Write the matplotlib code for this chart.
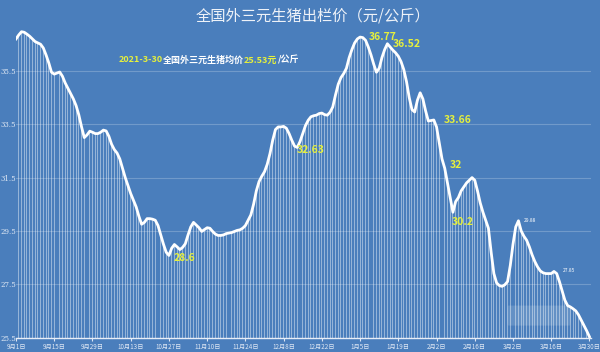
import numpy as np
import pandas as pd
import matplotlib
matplotlib.use('Agg')
import matplotlib.pyplot as plt
from matplotlib.patches import FancyBboxPatch

plt.rcParams['font.family'] = ['Noto Sans CJK SC', 'DejaVu Sans']

# daily price, 2020-09-01 .. 2021-03-30
prices = [
    36.70, 36.85, 36.97, 36.95, 36.88, 36.80, 36.70, 36.60, 36.55, 36.50,
    36.36, 36.10, 35.80, 35.45, 35.38, 35.42, 35.46, 35.30, 35.05, 34.85,
    34.65, 34.45, 34.20, 33.85, 33.40, 33.00, 33.10, 33.24, 33.20, 33.15,
    33.15, 33.20, 33.28, 33.25, 33.05, 32.75, 32.55, 32.42, 32.20, 31.85,
    31.50, 31.20, 30.90, 30.65, 30.40, 30.05, 29.75, 29.82, 29.96, 29.96,
    29.94, 29.90, 29.70, 29.35, 29.00, 28.70, 28.58, 28.85, 28.99, 28.90,
    28.80, 28.88, 29.02, 29.35, 29.65, 29.82, 29.72, 29.62, 29.48, 29.55,
    29.62, 29.60, 29.48, 29.38, 29.33, 29.33, 29.35, 29.40, 29.42, 29.44,
    29.48, 29.52, 29.54, 29.60, 29.70, 29.90, 30.10, 30.50, 31.00, 31.35,
    31.55, 31.72, 32.00, 32.40, 32.90, 33.30, 33.40, 33.40, 33.42, 33.35,
    33.15, 32.90, 32.68, 32.63, 32.85, 33.15, 33.45, 33.65, 33.78, 33.82,
    33.84, 33.90, 33.92, 33.86, 33.84, 33.95, 34.15, 34.60, 35.00, 35.25,
    35.40, 35.60, 36.00, 36.30, 36.55, 36.70, 36.77, 36.75, 36.65, 36.40,
    36.10, 35.75, 35.45, 35.60, 36.00, 36.30, 36.52, 36.40, 36.28, 36.18,
    36.05, 35.85, 35.55, 35.10, 34.50, 34.05, 33.96, 34.40, 34.68, 34.45,
    34.00, 33.62, 33.64, 33.66, 33.40, 32.80, 32.20, 31.85, 31.30, 30.75,
    30.20, 30.60, 30.75, 31.00, 31.15, 31.30, 31.40, 31.50, 31.40, 31.00,
    30.55, 30.20, 29.90, 29.60, 28.70, 27.90, 27.55, 27.45, 27.42, 27.48,
    27.60, 28.20, 29.00, 29.65, 29.88, 29.50, 29.30, 29.15, 28.90, 28.60,
    28.35, 28.15, 28.00, 27.93, 27.90, 27.90, 27.90, 27.98, 27.90, 27.60,
    27.25, 26.90, 26.70, 26.65, 26.58, 26.50, 26.35, 26.15, 25.95, 25.75,
    25.53,
]
dates = pd.date_range('2020-09-01', periods=len(prices), freq='D')

tick_idx = list(range(0, len(prices), 14))
tick_labels = ['%d月%d日' % (dates[i].month, dates[i].day) for i in tick_idx]
y_ticks = [25.5, 27.5, 29.5, 31.5, 33.5, 35.5]

# (day index, text, dx, dy in points)
big_labels = [(56, '28.6', 11, -2), (103, '32.63', 10, -2), (126, '36.77', 16, 0),
              (136, '36.52', 14, 0), (153, '33.66', 17, 0), (160, '32', 2, 34),
              (160, '30.2', 7, -7)]
small_labels = [(184, '29.88', 8, 0), (197, '27.85', 11, 1)]

bg = '#4a7ebc'
yellow = '#e6f03c'

fig = plt.figure(figsize=(6, 3.52), dpi=100, facecolor=bg)
ax = fig.add_axes([0.0267, 0.041, 0.958, 0.909], facecolor=bg)

x = np.arange(len(prices))
ax.bar(x, np.array(prices) - 25.5, bottom=25.5, width=0.35, color='white',
       alpha=0.42, linewidth=0, zorder=2)
ax.plot(x, prices, color='white', lw=2, solid_joinstyle='round', zorder=4)

ax.set_xlim(0, 210.5)
ax.set_ylim(25.5, 37.5)
ax.set_yticks(y_ticks)
ax.set_yticklabels([str(v) for v in y_ticks], family='DejaVu Serif')
ax.set_xticks(tick_idx)
ax.set_xticklabels(tick_labels)
ax.tick_params(axis='y', length=0, labelsize=5, colors='#dfe8f4', pad=0)
ax.tick_params(axis='x', length=2, width=0.8, labelsize=4.5, colors='#dfe8f4', pad=2)
ax.grid(axis='y', color='white', alpha=0.22, lw=0.8)
ax.set_axisbelow(True)
for s in ['top', 'right', 'left']:
    ax.spines[s].set_visible(False)
ax.spines['bottom'].set_color('#e8eef7')
ax.spines['bottom'].set_linewidth(1)

for i, t, dx, dy in big_labels:
    ax.annotate(t, (i, prices[i]), xytext=(dx, dy), textcoords='offset points',
                ha='center', va='center', color=yellow, fontsize=7.5,
                fontweight='bold', zorder=5)
for i, t, dx, dy in small_labels:
    ax.annotate(t, (i, prices[i]), xytext=(dx, dy), textcoords='offset points',
                ha='center', va='center', color='white', fontsize=3.5, zorder=5)

# blurred watermark
ax.add_patch(FancyBboxPatch((180, 26.05), 23, 0.55, boxstyle='round,pad=0.1,rounding_size=0.3',
                            facecolor='white', alpha=0.15, lw=0, zorder=3))

fig.text(0.522, 0.955, '全国外三元生猪出栏价（元/公斤）', ha='center', va='center',
         color='#eef2f8', fontsize=11)

# subtitle with mixed colours
parts = [('2021-3-30', yellow), ('全国外三元生猪均价', 'white'), ('25.53元', yellow),
         ('/公斤', 'white')]
fig.canvas.draw()
r = fig.canvas.get_renderer()
xpos = 119 / 600
for t, c in parts:
    tx = fig.text(xpos, 1 - 60 / 352, t, ha='left', va='center', color=c,
                  fontsize=6.5, fontweight='bold')
    bb = tx.get_window_extent(renderer=r)
    xpos += bb.width / fig.bbox.width

fig.savefig('out.png', dpi=100, facecolor=bg)
